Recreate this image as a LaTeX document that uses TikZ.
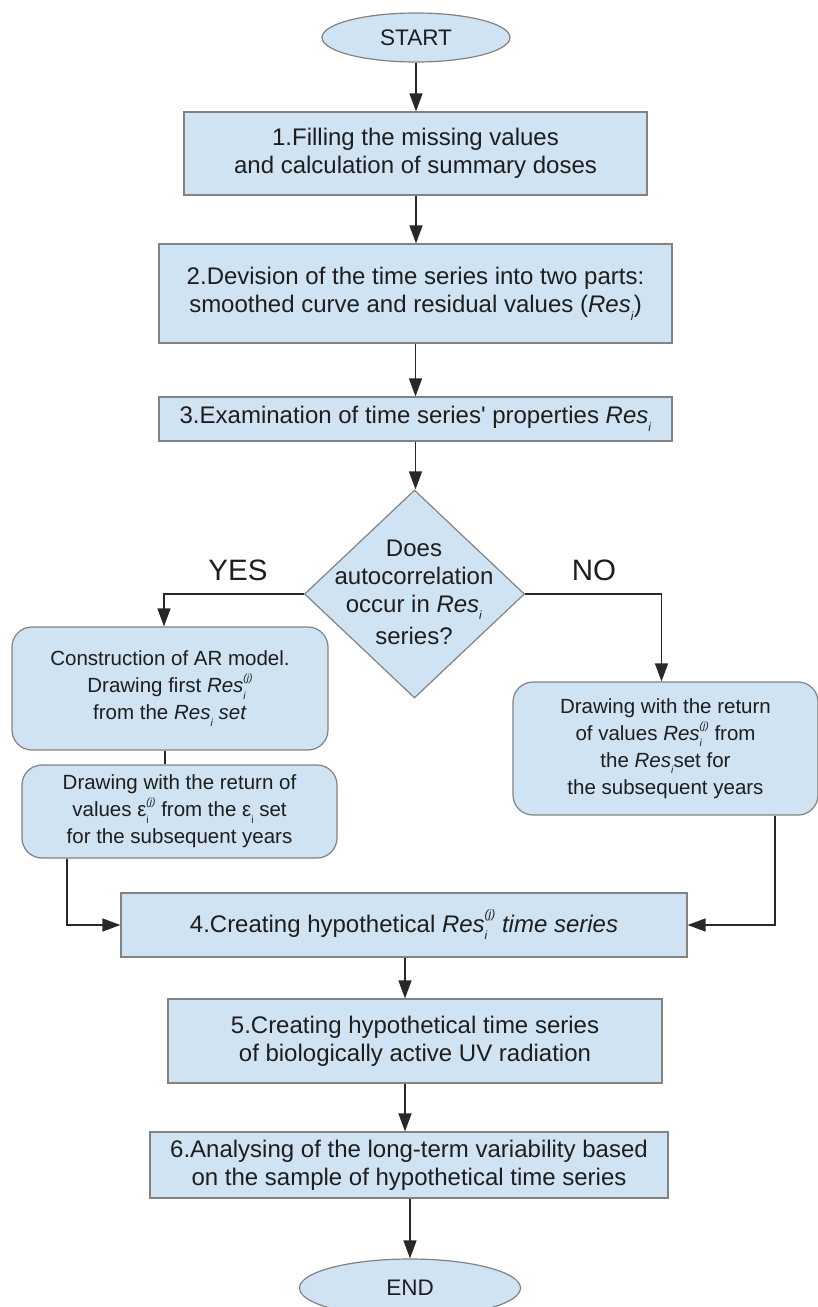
\documentclass[tikz,border=0pt]{standalone}
\usepackage{fontspec}
\setmainfont{Liberation Sans}
\usetikzlibrary{shapes.geometric,arrows.meta,calc}
\definecolor{boxfill}{RGB}{207,227,242}
\definecolor{boxline}{RGB}{130,130,130}
\definecolor{txt}{RGB}{30,30,30}
\definecolor{conn}{RGB}{40,40,40}
\makeatletter
\newcommand{\tinyf}{\fontsize{\fpeval{0.5*\f@size}}{1}\selectfont}
\makeatother
\newcommand{\lowidx}[1]{\raisebox{-0.32em}{\tinyf #1}}
\newcommand{\lowhigh}[2]{\rlap{\raisebox{-0.32em}{\tinyf #1}}\raisebox{0.55em}{\tinyf #2}}
\newcommand{\ResI}{\textit{Res}\lowidx{\textit{i}}}
\newcommand{\ResIJ}{\textit{Res}\lowhigh{\textit{i}}{\textit{(j)}}}
\newcommand{\sq}{{\addfontfeatures{Ligatures=TeXOff}'}}
\begin{document}
\begin{tikzpicture}[x=1pt,y=-1pt,
  box/.style={draw=boxline, fill=boxfill, line width=1.2pt, text=txt, align=center,
    inner sep=0pt, font=\fontsize{24}{28}\selectfont},
  rbox/.style={box, rounded corners=20pt, font=\fontsize{20.5}{27}\selectfont},
  term/.style={box, ellipse, font=\fontsize{22.5}{27}\selectfont},
  dbox/.style={box, diamond},
  lbl/.style={text=txt, font=\fontsize{29.5}{34}\selectfont, inner sep=0pt},
  arr/.style={draw=conn, line width=1.3pt, -{Triangle[length=18pt,width=13pt]}},
  conline/.style={draw=conn, line width=1.3pt}]
\clip (0,0) rectangle (818,1307);
\fill[white] (0,0) rectangle (818,1307);

\node[term, minimum width=188pt, minimum height=49pt] (start) at (416,37.5) {START};
\node[box, minimum width=463pt, minimum height=83pt] (b1) at (415.5,153.5)
  {1.Filling the missing values\\and calculation of summary doses};
\node[box, minimum width=513pt, minimum height=99pt] (b2) at (415.5,293.5)
  {2.Devision of the time series into two parts:\\smoothed curve and residual values (\ResI)};
\node[box, minimum width=513pt, minimum height=44pt] (b3) at (415.5,419)
  {3.Examination of time series\sq{} properties \ResI};
\node[dbox, minimum width=220pt, minimum height=208pt] (dia) at (414.5,594) {};
\node[text=txt, align=center, inner sep=0pt, font=\fontsize{24}{28}\selectfont] (diatext) at (414,592)
  {Does\\autocorrelation\\occur in \ResI\\[4pt]series?};
\node[lbl] (yes) at (238,570) {YES};
\node[lbl] (no) at (594,570) {NO};

\node[rbox, minimum width=316pt, minimum height=123pt] (ba) at (170,688.5)
  {Construction of AR model.\\Drawing first \ResIJ\\from the \textit{Res}\lowidx{\textit{i}}\textit{ set}};
\node[rbox, minimum width=315pt, minimum height=93pt] (bb) at (179.5,811.5)
  {Drawing with the return of\\values ε\lowhigh{i}{\textit{(j)}} from the ε\lowidx{i} set\\for the subsequent years};
\node[rbox, minimum width=305pt, minimum height=133pt] (bc) at (665.5,748.5)
  {Drawing with the return\\of values \ResIJ{} from\\the \ResI set for\\the subsequent years};

\node[box, minimum width=566pt, minimum height=64pt] (b4) at (404,925)
  {4.Creating hypothetical \ResIJ\textit{ time series}};
\node[box, minimum width=494pt, minimum height=84pt] (b5) at (415,1041)
  {5.Creating hypothetical time series\\of biologically active UV radiation};
\node[box, minimum width=518pt, minimum height=66pt] (b6) at (409,1165)
  {6.Analysing of the long-term variability based\\on the sample of hypothetical time series};
\node[term, minimum width=221pt, minimum height=58pt] (stop) at (410,1288) {END};

\coordinate (jl) at (67,925);
\coordinate (jr) at (775,925);
\coordinate (cx) at (405,0);

\draw[arr] (start.south) -- (start.south |- b1.north);
\draw[arr] (b1.south -| start.south) -- (start.south |- b2.north);
\draw[arr] (b2.south) -- (b3.north);
\draw[arr] (b3.south) -- (b3.south |- dia.north);
\draw[arr] (dia.west) -| ($(ba.north)+(-6,0)$);
\draw[arr] (dia.east) -| ($(bc.north)+(-4,0)$);
\draw[conline] ($(ba.south)+(-5,0)$) -- ($(ba.south |- bb.north)+(-5,0)$);
\draw[arr] (bb.south -| jl) |- (b4.west);
\draw[arr] (bc.south -| jr) |- (b4.east);
\draw[arr] (b4.south -| cx) -- (b5.north -| cx);
\draw[arr] (b5.south -| cx) -- (b6.north -| cx);
\draw[arr] (b6.south -| stop.north) -- (stop.north);
\end{tikzpicture}
\end{document}
